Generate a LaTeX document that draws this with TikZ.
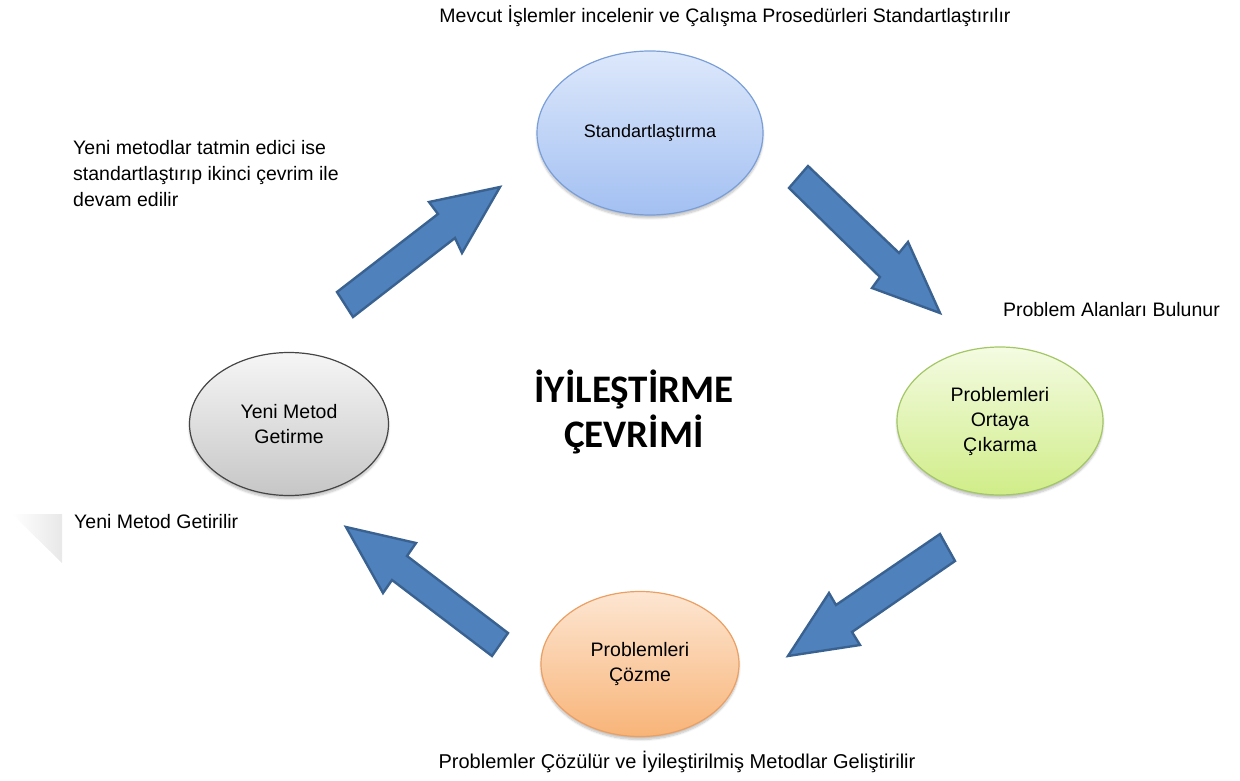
\documentclass[tikz,border=0pt]{standalone}
\usepackage{fontspec}
\setmainfont{Liberation Sans}
\newfontfamily\headfont{Carlito}
\usetikzlibrary{shapes.geometric,shadows.blur}

\definecolor{arrowfill}{HTML}{4F81BD}
\definecolor{arrowline}{HTML}{3A6291}
\definecolor{blueTop}{HTML}{DDE8FB}
\definecolor{blueBot}{HTML}{A3C0F2}
\definecolor{blueLine}{HTML}{7A9FD8}
\definecolor{greenTop}{HTML}{F4FBE2}
\definecolor{greenBot}{HTML}{D0ED88}
\definecolor{greenLine}{HTML}{A3C765}
\definecolor{orangeTop}{HTML}{FDE6D2}
\definecolor{orangeBot}{HTML}{F8B478}
\definecolor{orangeLine}{HTML}{EC9F62}
\definecolor{grayTop}{HTML}{F6F6F6}
\definecolor{grayBot}{HTML}{C6C6C6}
\definecolor{grayLine}{HTML}{454545}

\tikzset{
  stage/.style={ellipse, inner sep=0pt, line width=1.2pt, align=center,
    font=\fontsize{19.5}{25}\selectfont,
    blur shadow={shadow xshift=0pt, shadow yshift=-3pt, shadow opacity=25, shadow blur steps=6}},
  note/.style={inner sep=0pt, font=\fontsize{19.5}{26}\selectfont},
  headline/.style={inner sep=0pt, anchor=base, font=\headfont\bfseries\fontsize{39}{48}\selectfont},
  blockarrow/.style={fill=arrowfill, draw=arrowline, line width=2.4pt, line join=miter},
}

\begin{document}
\begin{tikzpicture}[x=1pt, y=-1pt]
  \useasboundingbox (0,0) rectangle (1240,781);

  % faint corner mark on the left
  \shade[left color=white, right color=black!9] (12,514) -- (62,514) -- (62,563) -- cycle;

  % the four stages of the cycle
  \node[stage, minimum width=226pt, minimum height=164pt,
        top color=blueTop, bottom color=blueBot, draw=blueLine,
        font=\fontsize{18}{24}\selectfont] (std) at (650,133) {Standartla\c{s}t\i rma};
  \node[stage, minimum width=206pt, minimum height=148pt,
        top color=greenTop, bottom color=greenBot, draw=greenLine] (find) at (1000,421)
        {Problemleri\\Ortaya\\\c{C}\i karma};
  \node[stage, minimum width=198pt, minimum height=145pt,
        top color=orangeTop, bottom color=orangeBot, draw=orangeLine] (solve) at (640,664)
        {Problemleri\\\c{C}\"ozme};
  \node[stage, minimum width=199pt, minimum height=143pt,
        top color=grayTop, bottom color=grayBot, draw=grayLine] (newm) at (289,424)
        {Yeni Metod\\Getirme};

  % block arrows between the stages
  \draw[blockarrow] (337,292) -- (438,214) -- (429,202) -- (500,187) -- (462,253)
        -- (455,238) -- (353,317) -- cycle;
  \draw[blockarrow] (808,166) -- (899,253) -- (908,242) -- (940,313) -- (872,288)
        -- (880,277) -- (789,188) -- cycle;
  \draw[blockarrow] (940,534) -- (955,561) -- (852,632) -- (860,645) -- (788,656)
        -- (829,593) -- (836,605) -- cycle;
  \draw[blockarrow] (346,527) -- (416,543) -- (407,556) -- (508,633) -- (492,656)
        -- (392,580) -- (383,593) -- cycle;

  % title in the middle
  \node[headline] (title1) at (634,402) {İYİLEŞTİRME};
  \node[headline] (title2) at (634,447) {ÇEVRİMİ};

  % explanatory notes
  \node[note, anchor=base] (n1) at (725,23)
        {Mevcut İşlemler incelenir ve Çalışma Prosedürleri Standartlaştırılır};
  \node[note, anchor=base west, align=left] (n2) at (73,206)
        {Yeni metodlar tatmin edici ise\\standartlaştırıp ikinci çevrim ile\\devam edilir};
  \node[note, anchor=base east] (n3) at (1220,316) {Problem Alanları Bulunur};
  \node[note, anchor=base west] (n4) at (74,528) {Yeni Metod Getirilir};
  \node[note, anchor=base, font=\fontsize{20}{26}\selectfont] (n5) at (677,768)
        {Problemler Çözülür ve İyileştirilmiş Metodlar Geliştirilir};
\end{tikzpicture}
\end{document}
